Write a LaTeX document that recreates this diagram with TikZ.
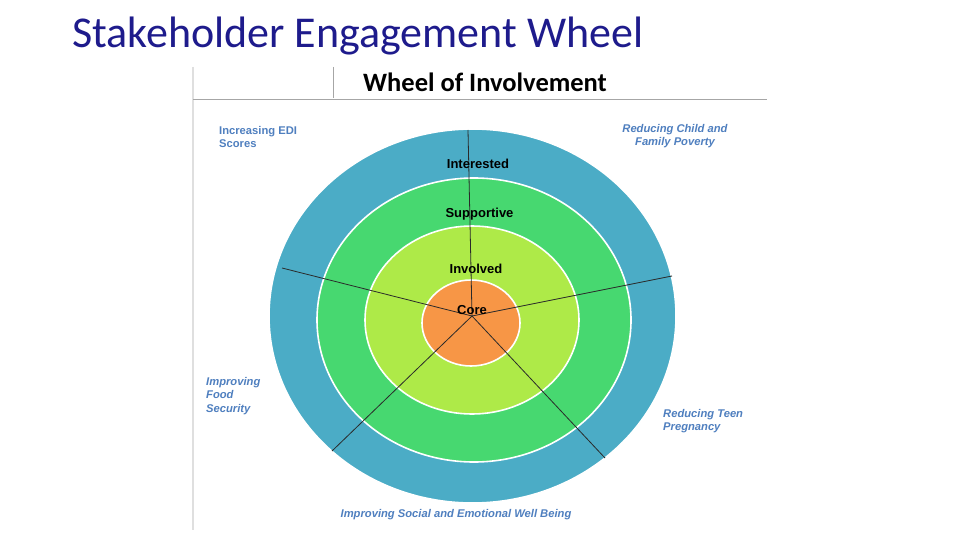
\documentclass[tikz,border=0pt]{standalone}
\usepackage{fontspec}
\setmainfont{Liberation Sans}
\newfontfamily\calibri{Carlito}
\definecolor{titleblue}{HTML}{1E1B8C}
\definecolor{ringblue}{HTML}{4BACC6}
\definecolor{ringgreen}{HTML}{47D870}
\definecolor{ringlime}{HTML}{AEEA48}
\definecolor{ringcore}{HTML}{F79646}
\definecolor{goalblue}{HTML}{4F7FBF}
\definecolor{spoke}{HTML}{2A2A2A}
\tikzset{
  ring/.style={draw=white, line width=1.6pt},
  spokeline/.style={draw=spoke, line width=0.8pt},
  ringlabel/.style={anchor=base, inner sep=0pt, font=\bfseries\fontsize{13}{13}\selectfont, text=black},
  goal/.style={inner sep=0pt, font=\bfseries\itshape\fontsize{11.2}{13.5}\selectfont, text=goalblue},
  frameline/.style={draw=gray!70, line width=1pt}
}
\begin{document}
\begin{tikzpicture}[x=1pt,y=-1pt]
\useasboundingbox (0,0) rectangle (960,540);
\fill[white] (0,0) rectangle (960,540);

% title
\node[anchor=base west, inner sep=0pt, font=\calibri\fontsize{44}{44}\selectfont, text=titleblue] (title) at (72,48) {Stakeholder Engagement Wheel};

% frame
\draw[draw=gray!25, line width=2.5pt] (193,67) -- (193,530);
\draw[frameline] (193,100) -- (767,100);
\draw[frameline] (333,67) -- (333,98);
\node[anchor=base west, inner sep=0pt, font=\calibri\bfseries\fontsize{26.5}{26.5}\selectfont] (hdr) at (363,91.5) {Wheel of Involvement};

% rings
\path[ring, fill=ringblue] (472.5,316) ellipse [x radius=203.5, y radius=187];
\path[ring, fill=ringgreen] (474,320) ellipse [x radius=157, y radius=142];
\path[ring, fill=ringlime] (472,320) ellipse [x radius=107, y radius=94];
\path[ring, fill=ringcore] (471,323) ellipse [x radius=49, y radius=43];

% spokes
\coordinate (hub) at (472,316);
\coordinate (s1) at (468,130);
\coordinate (s2) at (672,276);
\coordinate (s3) at (605,458);
\coordinate (s4) at (332,451);
\coordinate (s5) at (282,268);
\foreach \s in {s1,s2,s3,s4,s5} \draw[spokeline] (hub) -- (\s);

% ring labels
\node[ringlabel] (interested) at (478,168) {Interested};
\node[ringlabel] (supportive) at (479.5,217) {Supportive};
\node[ringlabel] (involved) at (476,273) {Involved};
\node[ringlabel] (core) at (472,314) {Core};

% goals
\node[goal, anchor=north west, align=left, font=\bfseries\fontsize{11.2}{13.5}\selectfont] (edi) at (219,126) {Increasing EDI\\Scores};
\node[goal, anchor=north, align=center] (poverty) at (675,124) {Reducing Child and\\Family Poverty};
\node[goal, anchor=north west, align=left] (food) at (206,377) {Improving\\Food\\Security};
\node[goal, anchor=north west, align=left] (teen) at (663,409) {Reducing Teen\\Pregnancy};
\node[goal, anchor=north] (social) at (456,509) {Improving Social and Emotional Well Being};
\end{tikzpicture}
\end{document}
